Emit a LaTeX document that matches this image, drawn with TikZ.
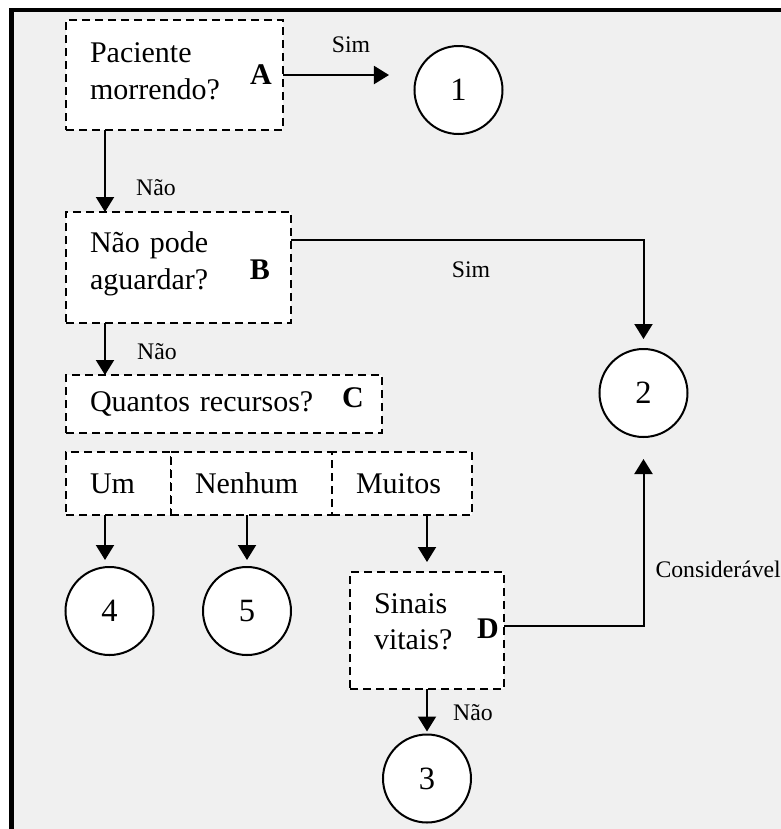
\documentclass[tikz,border=0pt]{standalone}
\usepackage{fontspec}
\setmainfont{Liberation Serif}
\usetikzlibrary{arrows.meta,positioning}
\definecolor{panelgray}{RGB}{240,240,240}

\begin{document}
\begin{tikzpicture}[
    x=0.4pt, y=-0.4pt,
    font=\fontsize{12}{14.5}\selectfont,
    box/.style={draw, dash pattern=on 3.2pt off 2pt, line width=0.8pt, fill=white,
        align=left, anchor=north west, inner xsep=9.6pt, inner ysep=0pt, outer sep=0pt},
    tag/.style={font=\fontsize{12}{14}\selectfont\bfseries, inner sep=0pt},
    endpt/.style={circle, draw, line width=0.8pt, fill=white, minimum size=35.2pt,
        inner sep=0pt, font=\fontsize{13}{15}\selectfont},
    lbl/.style={font=\fontsize{9.5}{11}\selectfont, inner sep=0pt},
    arr/.style={-{Triangle[width=7.2pt,length=6pt]}, line width=0.8pt}
]
\useasboundingbox (0,0) rectangle (781,829);
\fill[white] (0,0) rectangle (781,829);
\clip (0,0) rectangle (781,829);
\draw[line width=1.6pt, fill=panelgray] (11.5,10) rectangle (800,850);

\node[box, minimum width=86.8pt, minimum height=44pt, text width=67.6pt, text depth=17.7pt] (boxA) at (66,20) {Paciente\\morrendo?};
\node[box, minimum width=90pt, minimum height=44.4pt, text width=70.8pt, text depth=20pt] (boxB) at (66,212) {Não pode\\aguardar?};
\node[box, minimum width=126.4pt, minimum height=23.2pt, text width=107.2pt] (boxC) at (66,375) {Quantos recursos?};
\node[box, minimum width=42pt, minimum height=25.2pt, text width=22.8pt] (boxUm) at (66,452) {Um};
\node[box, anchor=west, minimum width=64.4pt, minimum height=25.2pt, text width=45.2pt, right=0pt of boxUm] (boxNenhum) {Nenhum};
\node[box, anchor=west, minimum width=56pt, minimum height=25.2pt, text width=36.8pt, right=0pt of boxNenhum] (boxMuitos) {Muitos};
\node[box, minimum width=61.6pt, minimum height=46.8pt, text width=42.4pt, text depth=21.7pt] (boxD) at (350,572) {Sinais\\vitais?};

\node[tag] (tagA) at (261,75)  {A};
\node[tag] (tagB) at (260,270) {B};
\node[tag] (tagC) at (353,398) {C};
\node[tag] (tagD) at (488,629) {D};

\node[endpt] (c1) at (458.5,90)  {1};
\node[endpt] (c2) at (643.5,393) {2};
\node[endpt] (c3) at (427,778.5) {3};
\node[endpt] (c4) at (109.5,611) {4};
\node[endpt] (c5) at (247,611)   {5};

\coordinate (colL) at (105,0);
\coordinate (rowB) at (0,240);
\coordinate (rowD) at (0,626);

\draw[arr, shorten >=9.8pt] (boxA.east) -- (boxA.east -| c1.west);
\draw[arr] (boxA.south -| colL) -- (boxB.north -| colL);
\draw[arr, shorten >=3.6pt] (boxB.east |- rowB) -| (c2.north);
\draw[arr] (boxB.south -| colL) -- (boxC.north -| colL);
\draw[arr, shorten >=2.4pt] (boxUm.south -| colL) -- (c4.north -| colL);
\draw[arr, shorten >=2.4pt] (boxNenhum.south -| c5) -- (c5.north);
\draw[arr, shorten >=4pt] (boxMuitos.south -| boxD) -- (boxD.north);
\draw[arr, shorten >=8.4pt] (boxD.east |- rowD) -| (c2.south);
\draw[arr, shorten >=0.8pt] (boxD.south) -- (boxD.south |- c3.north);

\node[lbl] (simA) at (351,45)  {Sim};
\node[lbl] (naoA) at (156,188) {Não};
\node[lbl] (simB) at (471,270) {Sim};
\node[lbl] (naoB) at (157,352) {Não};
\node[lbl, anchor=west] (consD) at (655,569) {Considerável};
\node[lbl] (naoD) at (473,713) {Não};
\end{tikzpicture}
\end{document}
